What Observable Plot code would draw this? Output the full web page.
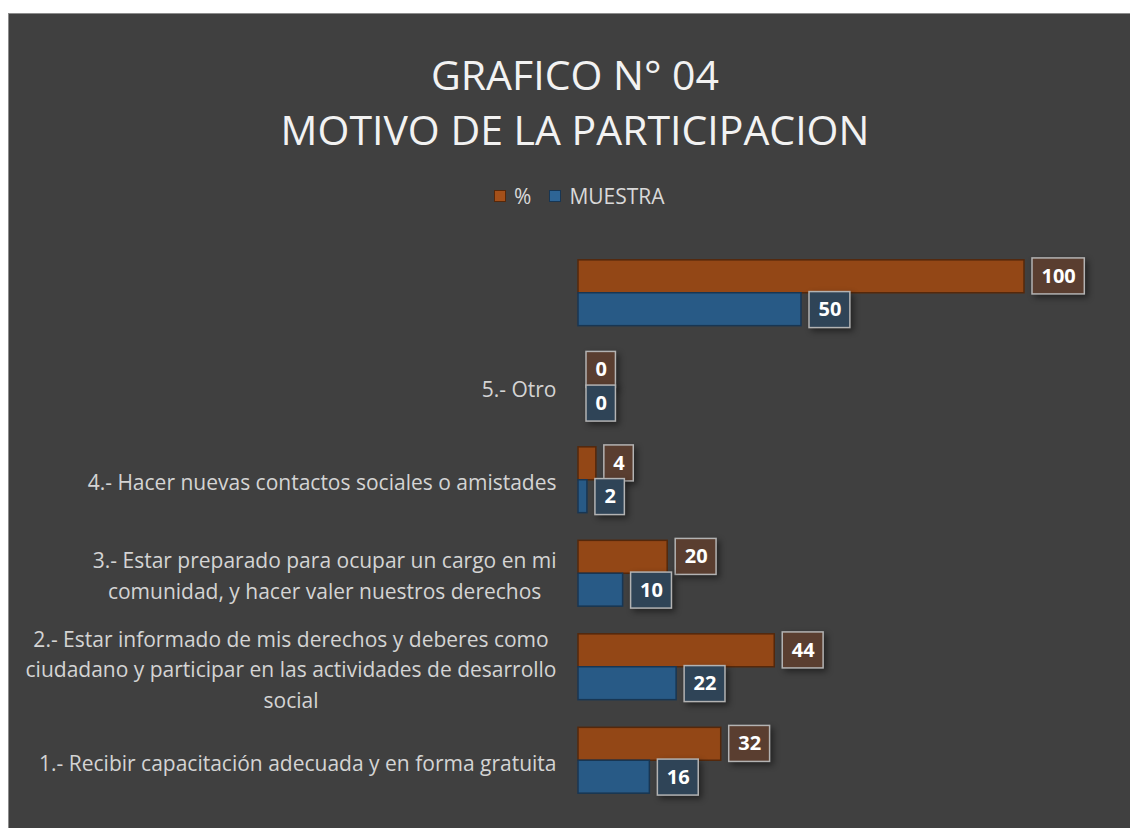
<!DOCTYPE html>
<html>
<head>
<meta charset="utf-8">
<script src="https://cdn.jsdelivr.net/npm/d3@7"></script>
<script src="https://cdn.jsdelivr.net/npm/@observablehq/plot@0.6"></script>
<style>
  html, body { margin: 0; padding: 0; background: #ffffff; overflow: hidden; }
  body { width: 1130px; height: 828px; position: relative; font-family: "Open Sans", sans-serif; }
  #frame { position: absolute; left: 8px; top: 13px; width: 1124px; height: 820px; background: #404040; border-left: 1px solid #8c8c8c; border-top: 1px solid #8c8c8c; box-sizing: border-box; }
  .title { position: absolute; left: 0; width: 1132px; text-align: center; color: #f2f2f2; font-size: 41px; line-height: 1; white-space: nowrap; }
  #t1 { top: 40px; }
  #t2 { top: 95px; }
  #legend { position: absolute; left: 485px; top: 168px; display: flex; align-items: center; color: #d9d9d9; font-size: 21px; white-space: nowrap; }
  #legend .sw { display: inline-block; width: 12px; height: 12px; box-sizing: border-box; margin-right: 8px; }
  #legend .item { display: flex; align-items: center; margin-right: 18px; }
  #chart { position: absolute; left: -1px; top: 219px; }
  .lblbox { filter: drop-shadow(3px 3px 3px rgba(0,0,0,0.45)); }
</style>
</head>
<body>
<div id="frame">
  <div id="t1" class="title">GRAFICO N° 04</div>
  <div id="t2" class="title">MOTIVO DE LA PARTICIPACION</div>
  <div id="legend"></div>
  <div id="chart"></div>
</div>
<script>
// ---- data ----
const categorias = [
  "1.- Recibir capacitación adecuada y en forma gratuita",
  "2.- Estar informado de mis derechos y deberes como\nciudadano y participar en las actividades de desarrollo\nsocial",
  "3.- Estar preparado para ocupar un cargo en mi\ncomunidad, y hacer valer nuestros derechos",
  "4.- Hacer nuevas contactos sociales o amistades",
  "5.- Otro",
  ""
];
const porcentaje = [32, 44, 20, 4, 0, 100];
const muestra = [16, 22, 10, 2, 0, 50];
const series = ["%", "MUESTRA"];

// ---- styles ----
const fills = { "%": "#934716", "MUESTRA": "#285a86" };
const strokes = { "%": "#55280b", "MUESTRA": "#183653" };
const boxFills = { "%": "#5a3e30", "MUESTRA": "#2f4457" };
const legendFills = { "%": "#a4501a", "MUESTRA": "#2e6596" };

// legend
const legend = document.getElementById("legend");
series.forEach(s => {
  const it = document.createElement("span");
  it.className = "item";
  const sw = document.createElement("span");
  sw.className = "sw";
  sw.style.background = legendFills[s];
  sw.style.border = "1px solid " + strokes[s];
  it.appendChild(sw);
  it.appendChild(document.createTextNode(s));
  legend.appendChild(it);
});

const rows = categorias.map((c, i) => ({ cat: c, "%": porcentaje[i], "MUESTRA": muestra[i] }));

const W = 1124, H = 600;
const mL = 570, mR = 108, mT = 13, mB = 26;
const pInner = 0.28, pOuter = 0.14;
const n = categorias.length;
const step = (H - mT - mB) / (n - pInner + 2 * pOuter);
const bw = step * (1 - pInner);

const labFont = 21;
const numFont = 20;
const boxPad = 9, gap = 8, boxH = 36;

const ctx = document.createElement("canvas").getContext("2d");
function textW(t, font) { ctx.font = font; return ctx.measureText(t).width; }

const marks = [];

// bars
series.forEach((s, k) => {
  marks.push(Plot.barX(rows.filter(r => r[s] > 0), {
    x: s, y: "cat",
    fill: fills[s], stroke: strokes[s], strokeWidth: 1.5,
    insetTop: k === 0 ? 0.75 : bw / 2,
    insetBottom: k === 0 ? bw / 2 : 0.75
  }));
});

// value label boxes + texts
series.forEach((s, k) => {
  const center = k === 0 ? bw / 4 : 3 * bw / 4;
  rows.forEach(r => {
    const tw = textW(String(r[s]), `bold ${numFont}px "Open Sans"`);
    const bwid = tw + 2 * boxPad;
    marks.push(Plot.barX([r], {
      x1: s, x2: s, y: "cat",
      insetLeft: gap, insetRight: -(gap + bwid),
      insetTop: center - boxH / 2, insetBottom: bw - center - boxH / 2,
      fill: boxFills[s], stroke: "#b3b3b3", strokeWidth: 1.5,
      className: "lblbox"
    }));
  });
  marks.push(Plot.text(rows, {
    x: s, y: "cat", text: d => String(d[s]),
    textAnchor: "start", dx: gap + boxPad, dy: center - bw / 2,
    fill: "#ffffff", fontWeight: "bold", fontSize: numFont, fontFamily: "Open Sans"
  }));
});

// category labels (wrapped lines centered, block right-aligned)
rows.forEach(r => {
  if (!r.cat) return;
  const lines = r.cat.split("\n");
  const maxW = d3.max(lines, l => textW(l, `${labFont}px "Open Sans"`));
  marks.push(Plot.text([r], {
    y: "cat", text: "cat", frameAnchor: "left",
    textAnchor: "middle", lineAnchor: "middle",
    dx: -(22 + maxW / 2), lineHeight: 30.5 / labFont,
    fill: "#d4d4d4", fontSize: labFont, fontFamily: "Open Sans"
  }));
});

const chart = Plot.plot({
  width: W, height: H,
  marginLeft: mL, marginRight: mR, marginTop: mT, marginBottom: mB,
  style: { background: "transparent", color: "#d9d9d9", fontFamily: "Open Sans" },
  x: { domain: [0, 100], axis: null },
  y: { type: "band", domain: categorias.slice().reverse(), paddingInner: pInner, paddingOuter: pOuter, round: false, axis: null },
  marks
});
document.getElementById("chart").appendChild(chart);
</script>
</body>
</html>
